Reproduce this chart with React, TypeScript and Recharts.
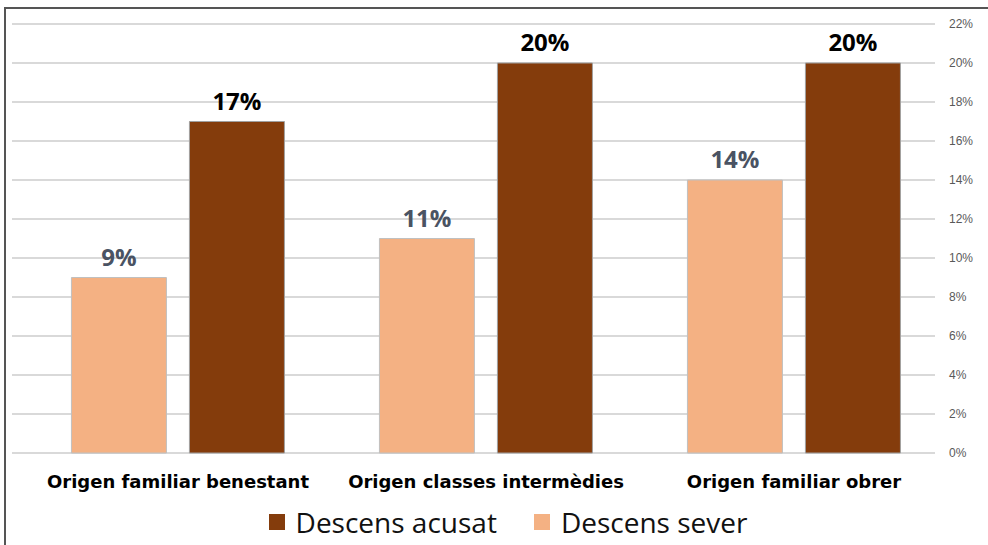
import { BarChart, Bar, XAxis, YAxis, CartesianGrid, Legend, LabelList } from 'recharts'

const categories = ['Origen familiar benestant', 'Origen classes intermèdies', 'Origen familiar obrer']
const descensSever = [9, 11, 14]
const descensAcusat = [17, 20, 20]
const yTicks = [0, 2, 4, 6, 8, 10, 12, 14, 16, 18, 20, 22]

const SEVER_COLOR = '#F4B183'
const ACUSAT_COLOR = '#843C0C'

const chartData = categories.map((name, i) => ({
    name,
    sever: descensSever[i],
    acusat: descensAcusat[i],
}))

const legendItems = [
    { label: 'Descens acusat', color: ACUSAT_COLOR },
    { label: 'Descens sever', color: SEVER_COLOR },
]

function LegendContent() {
    return (
        <div style={{ display: 'flex', justifyContent: 'center', gap: 37, fontFamily: '"Open Sans", sans-serif', fontSize: 28, lineHeight: '34px', color: '#111', paddingLeft: 4 }}>
            {legendItems.map((item) => (
                <div key={item.label} style={{ display: 'flex', alignItems: 'center', gap: 11 }}>
                    <span style={{ display: 'inline-block', width: 16, height: 16, background: item.color }} />
                    <span>{item.label}</span>
                </div>
            ))}
        </div>
    )
}

export default function App() {
    return (
        <div style={{ position: 'absolute', left: 0, top: 0, width: 988, height: 545, background: '#fff', overflow: 'hidden' }}>
            <div
                style={{
                    position: 'absolute',
                    left: 4,
                    top: 7,
                    width: 990,
                    height: 545,
                    borderTop: '2px solid #555',
                    borderLeft: '2px solid #555',
                }}
            />
            <div style={{ position: 'absolute', left: 0, top: 0 }}>
                <BarChart
                    width={988}
                    height={545}
                    data={chartData}
                    margin={{ top: 24, right: 0, left: 24, bottom: 6 }}
                    barCategoryGap="15.4%"
                    barGap={23}
                >
                    <CartesianGrid vertical={false} x={12} width={923} stroke="#D9D9D9" strokeWidth={2} />
                    <XAxis
                        dataKey="name"
                        axisLine={false}
                        tickLine={false}
                        interval={0}
                        height={52}
                        tickMargin={16}
                        tick={{ fill: '#000', fontSize: 18, fontWeight: 700, fontFamily: '"DejaVu Sans", sans-serif' }}
                    />
                    <YAxis
                        orientation="right"
                        domain={[0, 22]}
                        ticks={yTicks}
                        width={40}
                        axisLine={false}
                        tickLine={false}
                        tickMargin={0}
                        tickFormatter={(v) => `${v}%`}
                        tick={{ fill: '#595959', fontSize: 12, fontFamily: 'Liberation Sans, Arial, sans-serif', textAnchor: 'start', dx: -5 }}
                    />
                    <Legend verticalAlign="bottom" content={<LegendContent />} />
                    <Bar dataKey="sever" name="Descens sever" fill={SEVER_COLOR} stroke="#C0C0C0" strokeWidth={1} isAnimationActive={false}>
                        <LabelList
                            dataKey="sever"
                            position="top"
                            offset={12}
                            formatter={(v: number) => `${v}%`}
                            style={{ fill: '#4A5363', fontSize: 24, fontWeight: 700, fontFamily: '"Open Sans", sans-serif' }}
                        />
                    </Bar>
                    <Bar dataKey="acusat" name="Descens acusat" fill={ACUSAT_COLOR} stroke="#A0A0A0" strokeWidth={1} isAnimationActive={false}>
                        <LabelList
                            dataKey="acusat"
                            position="top"
                            offset={12}
                            formatter={(v: number) => `${v}%`}
                            style={{ fill: '#000', fontSize: 24, fontWeight: 700, fontFamily: '"Open Sans", sans-serif' }}
                        />
                    </Bar>
                </BarChart>
            </div>
        </div>
    )
}
